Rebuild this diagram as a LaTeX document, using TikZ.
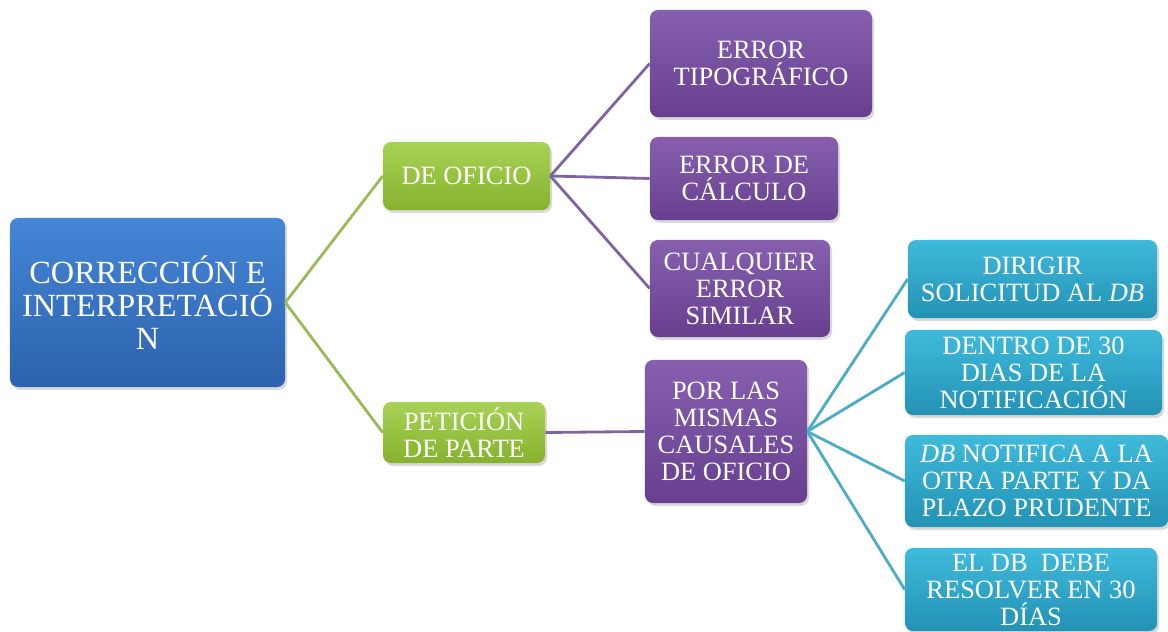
\documentclass[tikz,border=0pt]{standalone}
\usepackage{fontspec}
\setmainfont{Liberation Serif}
\usetikzlibrary{shadows}
\definecolor{rootTop}{HTML}{4586D6}
\definecolor{rootBot}{HTML}{2C62AE}
\definecolor{greenTop}{HTML}{A8D255}
\definecolor{greenBot}{HTML}{86B22E}
\definecolor{purpleTop}{HTML}{8660AF}
\definecolor{purpleBot}{HTML}{673F8E}
\definecolor{aquaTop}{HTML}{3FBADB}
\definecolor{aquaBot}{HTML}{2392B5}
\definecolor{greenLine}{HTML}{9BBB59}
\definecolor{purpleLine}{HTML}{8064A2}
\definecolor{aquaLine}{HTML}{4BACC6}
\tikzset{
  box/.style = {align=center, inner sep=0pt, text centered, text=white,
    rounded corners=0.2cm, font=\fontsize{18.8}{19.2}\selectfont,
    drop shadow={opacity=0.3, shadow xshift=0.05cm, shadow yshift=-0.07cm}},
  rootbox/.style = {box, top color=rootTop, bottom color=rootBot,
    font=\fontsize{23}{23.6}\selectfont},
  greenbox/.style = {box, top color=greenTop, bottom color=greenBot},
  purplebox/.style = {box, top color=purpleTop, bottom color=purpleBot},
  aquabox/.style = {box, top color=aquaTop, bottom color=aquaBot},
  link/.style = {line width=2pt}
}
\begin{document}
\begin{tikzpicture}[x=0.025cm, y=-0.025cm]
\useasboundingbox (0,0) rectangle (1168,631);
\node [rootbox, minimum width=6.875cm, minimum height=4.225cm] (corr) at (147.5,302.5)
  {CORRECCIÓN E\\INTERPRETACIÓ\\N};
\node [greenbox, minimum width=4.175cm, minimum height=1.7cm] (oficio) at (466.5,176) {DE OFICIO};
\node [greenbox, minimum width=4.05cm, minimum height=1.525cm] (peticion) at (464,432.5) {PETICIÓN\\DE PARTE};
\node [purplebox, minimum width=5.55cm, minimum height=2.675cm] (tipo) at (761,63.5) {ERROR\\TIPOGRÁFICO};
\node [purplebox, minimum width=4.7cm, minimum height=2.075cm] (calculo) at (744,178.5) {ERROR DE\\CÁLCULO};
\node [purplebox, minimum width=4.5cm, minimum height=2.425cm] (similar) at (740,288.5) {CUALQUIER\\ERROR\\SIMILAR};
\node [purplebox, minimum width=4.05cm, minimum height=3.575cm] (causales) at (726,431.5)
  {POR LAS\\MISMAS\\CAUSALES\\DE OFICIO};
\node [aquabox, minimum width=6.225cm, minimum height=1.95cm] (dirigir) at (1032.5,279)
  {DIRIGIR\\SOLICITUD AL \textit{DB}};
\node [aquabox, minimum width=6.425cm, minimum height=2.125cm] (dentro) at (1033.5,372.5)
  {DENTRO DE 30\\DIAS DE LA\\NOTIFICACIÓN};
\node [aquabox, minimum width=6.575cm, minimum height=2.3cm] (notifica) at (1036.5,481)
  {\textit{DB} NOTIFICA A LA\\OTRA PARTE Y DA\\PLAZO PRUDENTE};
\node [aquabox, minimum width=6.3cm, minimum height=2.075cm] (resolver) at (1031,589.5)
  {EL DB\ \ DEBE\\RESOLVER EN 30\\DÍAS};
\draw [link, greenLine] (corr.east) -- (oficio.west);
\draw [link, greenLine] (corr.east) -- (peticion.west);
\draw [link, purpleLine] (oficio.east) -- (tipo.west);
\draw [link, purpleLine] (oficio.east) -- (calculo.west);
\draw [link, purpleLine] (oficio.east) -- (similar.west);
\draw [link, purpleLine] (peticion.east) -- (causales.west);
\draw [link, aquaLine] (causales.east) -- (dirigir.west);
\draw [link, aquaLine] (causales.east) -- (dentro.west);
\draw [link, aquaLine] (causales.east) -- (notifica.west);
\draw [link, aquaLine] (causales.east) -- (resolver.west);
\end{tikzpicture}
\end{document}
